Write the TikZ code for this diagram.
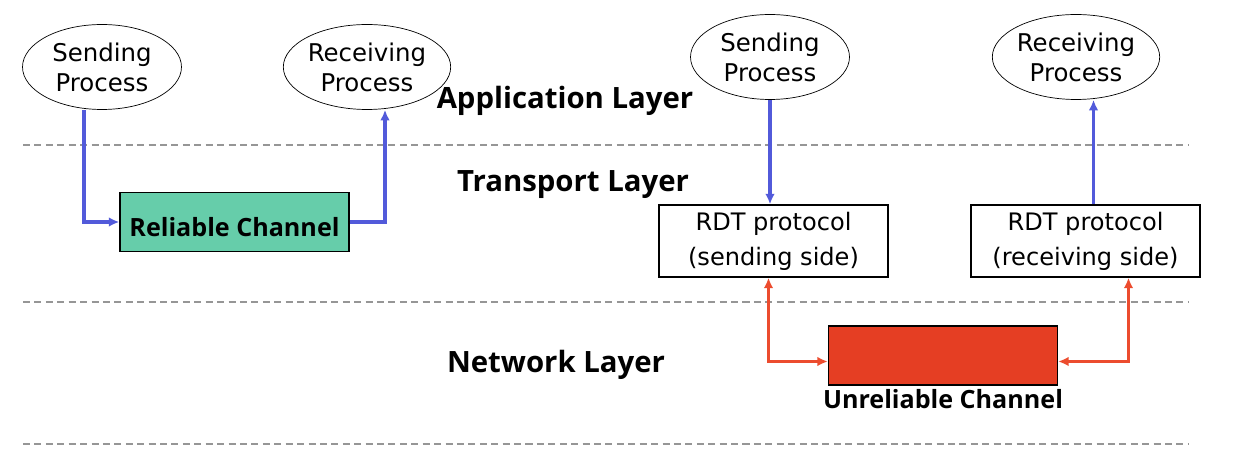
\documentclass[tikz,border=0pt]{standalone}
\usepackage{fontspec}
\setmainfont{DejaVu Sans}
\newfontfamily\labelfont{Open Sans}
\usetikzlibrary{shapes.geometric}
\usetikzlibrary{arrows.meta}
\usetikzlibrary{positioning}

\definecolor{msgblue}{RGB}{82,90,218}
\definecolor{chanred}{RGB}{229,62,35}
\definecolor{linkred}{RGB}{236,76,46}
\definecolor{relgreen}{RGB}{102,205,170}
\definecolor{layergray}{RGB}{150,150,150}

\tikzset{
  proc/.style={draw,ellipse,thin,inner sep=0pt,minimum width=3.18cm,minimum height=1.7cm,
    align=center,font=\fontsize{13.9}{17}\selectfont},
  rdt/.style={draw,thick,inner sep=0pt,minimum width=4.58cm,minimum height=1.44cm,
    align=center,font=\fontsize{13.7}{20}\selectfont},
  chan/.style={draw,thick,inner sep=0pt,minimum width=4.58cm,minimum height=1.18cm},
  chanlabel/.style={font=\labelfont\bfseries\fontsize{14.3}{18}\selectfont},
  layerlabel/.style={font=\labelfont\bfseries\fontsize{16.7}{20}\selectfont},
  layerline/.style={layergray,line width=0.8pt,dash pattern=on 4pt off 2.5pt},
  msgarrow/.style={msgblue,line width=1.8pt,-{Latex[length=6pt,width=5.5pt]}},
  linkarrow/.style={linkred,line width=1.8pt,{Latex[length=6pt,width=5.5pt]}-{Latex[length=6pt,width=5.5pt]}}
}

\begin{document}
\begin{tikzpicture}[x=0.02cm,y=-0.02cm]
      \useasboundingbox (0,0) rectangle (1250,472);
      \foreach\y in {145,302,444} {
        \draw[layerline] (23,\y) -- (1188,\y);
      }

      \node[layerlabel] (app) at (565,101) {Application Layer};
      \node[layerlabel] (trans) at (573,185) {Transport Layer};
      \node[layerlabel] (net) at (556,365) {Network Layer};

      \node[proc] (send1) at (102,67) {Sending\\Process};
      \node[proc] (recv1) at (367,67) {Receiving\\Process};
      \node[chan,fill=relgreen] (rel) at (234.5,222) {};
      \node[chanlabel] at ([yshift=-0.1cm]rel.center) {Reliable Channel};
      \draw[msgarrow] ([xshift=-0.36cm]send1.south) |- (rel.west);
      \draw[msgarrow] (rel.east) -| ([xshift=0.36cm]recv1.south);

      \node[proc] (send2) at (770,57) {Sending\\Process};
      \node[proc] (recv2) at (1076,57) {Receiving\\Process};
      \node[rdt] (rdts) at (773.5,241) {RDT protocol\\(sending side)};
      \node[rdt] (rdtr) at (1085.5,241) {RDT protocol\\(receiving side)};
      \draw[msgarrow] (send2.south) -- (send2.south |- rdts.north);
      \draw[msgarrow] ([xshift=0.16cm]rdtr.north) -- ([xshift=0.16cm]rdtr.north |- recv2.south);

      \node[chan,fill=chanred] (unrel) at (943,355.5) {};
      \node[chanlabel,below=-0.05cm of unrel] (unrellabel) {Unreliable Channel};
      \draw[linkarrow] ([xshift=-0.1cm]rdts.south) |- ([yshift=-0.12cm]unrel.west);
      \draw[linkarrow] ([xshift=0.86cm]rdtr.south) |- ([yshift=-0.12cm]unrel.east);
\end{tikzpicture}
\end{document}
